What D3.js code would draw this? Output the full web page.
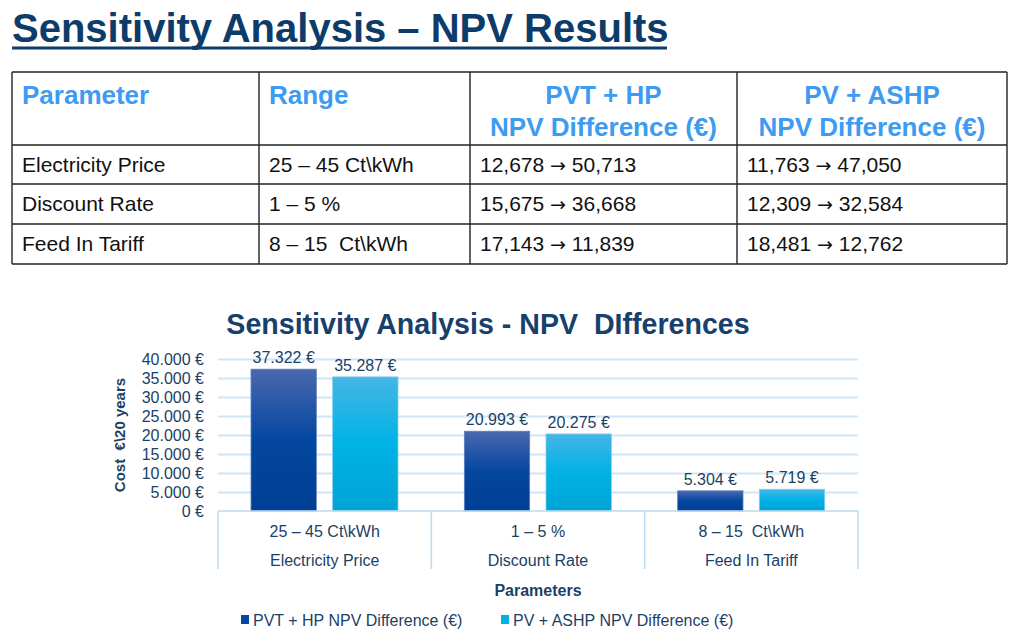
<!DOCTYPE html>
<html lang="en">
<head>
  <meta charset="UTF-8">
  <title>Sensitivity Analysis - NPV Results</title>
  <script src="https://d3js.org/d3.v7.min.js"></script>
  <style>
    body {
      margin: 0;
      background: #fff;
      font-family: "Liberation Sans", Arial, sans-serif;
    }
    text {
      white-space: pre;
    }
    .grid line {
      stroke: #cfe6f7;
      stroke-width: 2px;
    }
    .grid path {
      display: none;
    }
  </style>
</head>
<body>
  <svg width="1024" height="635"></svg>

  <script>
    // table
    const tableHeaders = [["Parameter"], ["Range"], ["PVT + HP", "NPV Difference (€)"], ["PV + ASHP", "NPV Difference (€)"]];
    const parameters = ["Electricity Price", "Discount Rate", "Feed In Tariff"];
    const ranges = ["25 – 45 Ct\\kWh", "1 – 5 %", "8 – 15  Ct\\kWh"];
    const pvtRange = ["12,678 → 50,713", "15,675 → 36,668", "17,143 → 11,839"];
    const pvRange = ["11,763 → 47,050", "12,309 → 32,584", "18,481 → 12,762"];

    // chart
    const series = ["PVT + HP NPV Difference (€)", "PV + ASHP NPV Difference (€)"];
    const pvtValues = [37322, 20993, 5304];
    const pvValues = [35287, 20275, 5719];
    const yTicks = [0, 5000, 10000, 15000, 20000, 25000, 30000, 35000, 40000];

    const svg = d3.select("svg");
    const navy = "#0d3c6b";
    const textBlue = "#1c3f66";

    // page title
    svg.append("text")
      .attr("x", 12).attr("y", 42)
      .attr("font-size", 40).attr("font-weight", "bold")
      .attr("fill", navy)
      .text("Sensitivity Analysis – NPV Results");
    svg.append("line")
      .attr("x1", 12).attr("x2", 667)
      .attr("y1", 48).attr("y2", 48)
      .attr("stroke", navy).attr("stroke-width", 3);

    // ---------- table ----------
    const colEdges = [12, 259, 470, 737, 1007];
    const rowEdges = [72, 145, 184, 224, 264];
    const tbl = svg.append("g");

    tbl.selectAll(".hline").data(rowEdges).enter().append("line")
      .attr("x1", colEdges[0]).attr("x2", colEdges[4])
      .attr("y1", d => d).attr("y2", d => d)
      .attr("stroke", "#222").attr("stroke-width", 1.4);
    tbl.selectAll(".vline").data(colEdges).enter().append("line")
      .attr("x1", d => d).attr("x2", d => d)
      .attr("y1", rowEdges[0]).attr("y2", rowEdges[4])
      .attr("stroke", "#222").attr("stroke-width", 1.4);

    tableHeaders.forEach((lines, i) => {
      const centered = i >= 2;
      const t = tbl.append("text")
        .attr("font-size", 26).attr("font-weight", "bold")
        .attr("fill", "#3d9bf2")
        .attr("text-anchor", centered ? "middle" : "start");
      lines.forEach((ln, j) => {
        t.append("tspan")
          .attr("x", centered ? (colEdges[i] + colEdges[i + 1]) / 2 : colEdges[i] + 10)
          .attr("y", 104 + j * 32)
          .text(ln);
      });
    });

    const bodyCols = [parameters, ranges, pvtRange, pvRange];
    bodyCols.forEach((col, i) => {
      const cells = tbl.selectAll(null).data(col).enter().append("text")
        .attr("x", colEdges[i] + 10)
        .attr("y", (d, r) => rowEdges[r + 1] + 27)
        .attr("font-size", 21)
        .attr("fill", "#111");
      cells.each(function(d) {
        const parts = d.split("→");
        const el = d3.select(this);
        if (parts.length === 1) { el.text(d); return; }
        el.append("tspan").text(parts[0]);
        el.append("tspan").attr("font-family", "DejaVu Sans").attr("font-size", 19).text("→");
        el.append("tspan").text(parts[1]);
      });
    });

    // ---------- chart ----------
    const plot = { left: 218, right: 858, top: 359, bottom: 511 };

    svg.append("text")
      .attr("x", 488).attr("y", 334)
      .attr("text-anchor", "middle")
      .attr("font-size", 28.6).attr("font-weight", "bold")
      .attr("fill", "#17406d")
      .text("Sensitivity Analysis - NPV  DIfferences");

    const x0 = d3.scaleBand().domain(parameters).range([plot.left, plot.right]);
    const x1 = d3.scaleBand().domain(series).range([33, 180]).paddingInner(0.2);
    const y = d3.scaleLinear().domain([0, 40000]).range([plot.bottom, plot.top]);

    const defs = svg.append("defs");
    const grads = [
      ["g0", [["0%", "#4a68ae"], ["50%", "#0447a0"], ["100%", "#003f94"]]],
      ["g1", [["0%", "#45b6e5"], ["50%", "#00b2e6"], ["100%", "#00a4d5"]]]
    ];
    grads.forEach(([id, stops]) => {
      const lg = defs.append("linearGradient").attr("id", id)
        .attr("x1", 0).attr("x2", 0).attr("y1", 0).attr("y2", 1);
      stops.forEach(s => lg.append("stop").attr("offset", s[0]).attr("stop-color", s[1]));
    });
    const edge = ["#5a7fc0", "#7fcdee"];

    // gridlines
    svg.append("g")
      .attr("class", "grid")
      .attr("transform", `translate(${plot.left},0)`)
      .call(d3.axisLeft(y).tickValues(yTicks.slice(1)).tickSize(-(plot.right - plot.left)).tickFormat(""));

    // y tick labels
    const fmt = d3.formatLocale({ decimal: ",", thousands: ".", grouping: [3], currency: ["", " €"] }).format("$,.0f");
    svg.append("g").selectAll("text").data(yTicks).enter().append("text")
      .attr("x", 204)
      .attr("y", d => y(d) + 6)
      .attr("text-anchor", "end")
      .attr("font-size", 16)
      .attr("fill", textBlue)
      .text(d => fmt(d));

    svg.append("text")
      .attr("transform", "translate(125,435) rotate(-90)")
      .attr("text-anchor", "middle")
      .attr("font-size", 15).attr("font-weight", "bold")
      .attr("fill", textBlue)
      .text("Cost  €\\20 years");

    // bars
    const rows = parameters.map((p, i) => ({ p, vals: [pvtValues[i], pvValues[i]] }));
    const grp = svg.append("g").selectAll("g").data(rows).enter().append("g")
      .attr("transform", d => `translate(${x0(d.p)},0)`);

    grp.selectAll("rect").data(d => d.vals.map((v, k) => ({ s: series[k], v, k }))).enter().append("rect")
      .attr("x", d => x1(d.s))
      .attr("y", d => y(d.v))
      .attr("width", x1.bandwidth())
      .attr("height", d => y(0) - y(d.v))
      .attr("fill", d => `url(#g${d.k})`)
      .attr("stroke", d => edge[d.k])
      .attr("stroke-width", 0.8);

    grp.selectAll("text").data(d => d.vals.map((v, k) => ({ s: series[k], v }))).enter().append("text")
      .attr("x", d => x1(d.s) + x1.bandwidth() / 2)
      .attr("y", d => y(d.v) - 6)
      .attr("text-anchor", "middle")
      .attr("font-size", 16)
      .attr("fill", textBlue)
      .text(d => fmt(d.v));

    // category axis boxes
    const axisColor = "#b9dbf3";
    svg.append("line")
      .attr("x1", plot.left).attr("x2", plot.right)
      .attr("y1", plot.bottom).attr("y2", plot.bottom)
      .attr("stroke", axisColor).attr("stroke-width", 1.5);
    const dividers = parameters.map(p => x0(p)).concat([plot.right]);
    svg.selectAll(".div").data(dividers).enter().append("line")
      .attr("x1", d => d).attr("x2", d => d)
      .attr("y1", plot.bottom).attr("y2", 569)
      .attr("stroke", axisColor).attr("stroke-width", 1.5);

    const cat = svg.append("g").selectAll("g").data(parameters).enter().append("g");
    cat.append("text")
      .attr("x", d => x0(d) + x0.bandwidth() / 2)
      .attr("y", 537)
      .attr("text-anchor", "middle")
      .attr("font-size", 16).attr("fill", textBlue)
      .text((d, i) => ranges[i]);
    cat.append("text")
      .attr("x", d => x0(d) + x0.bandwidth() / 2)
      .attr("y", 566)
      .attr("text-anchor", "middle")
      .attr("font-size", 16).attr("fill", textBlue)
      .text(d => d);

    svg.append("text")
      .attr("x", 538).attr("y", 596)
      .attr("text-anchor", "middle")
      .attr("font-size", 16).attr("font-weight", "bold")
      .attr("fill", textBlue)
      .text("Parameters");

    // legend
    const legX = [241, 501];
    const leg = svg.append("g").selectAll("g").data(series).enter().append("g")
      .attr("transform", (d, i) => `translate(${legX[i]},615)`);
    leg.append("rect")
      .attr("width", 8).attr("height", 9)
      .attr("fill", (d, i) => ["#0447a0", "#00b2e6"][i]);
    leg.append("text")
      .attr("x", 12).attr("y", 11)
      .attr("font-size", 16).attr("fill", textBlue)
      .text(d => d);
  </script>
</body>
</html>
